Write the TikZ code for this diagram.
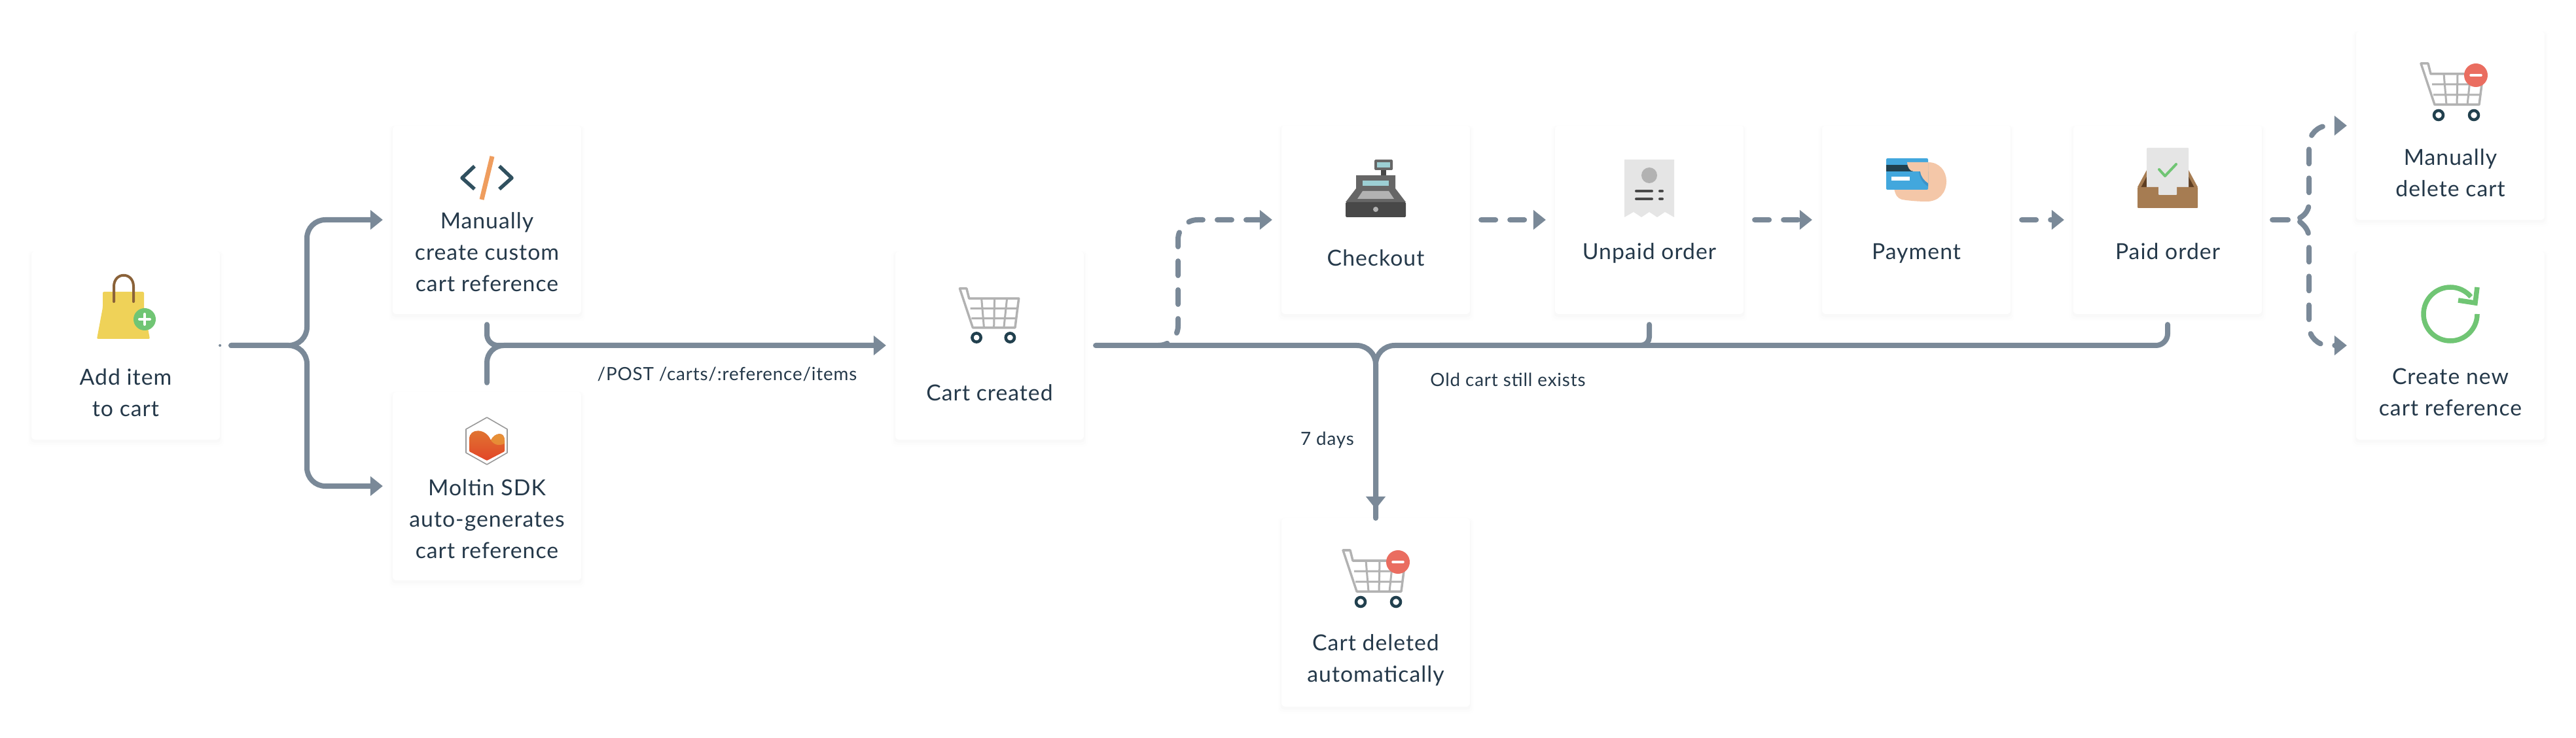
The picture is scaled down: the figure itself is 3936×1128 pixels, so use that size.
\documentclass[tikz,border=0pt]{standalone}
\usepackage{fontspec}
\setmainfont{Lato}[LetterSpace=3]
\usetikzlibrary{arrows.meta,shadows}
\definecolor{flowgray}{HTML}{7A8998}
\definecolor{inkblue}{HTML}{25394A}
\definecolor{cartgray}{HTML}{B2B2B2}
\definecolor{wheelblue}{HTML}{21404E}
\definecolor{minusred}{HTML}{EA6D60}
\definecolor{plusgreen}{HTML}{70C574}
\definecolor{bagyellow}{HTML}{EFD258}
\definecolor{handlebrown}{HTML}{8A6239}
\definecolor{boxbrown}{HTML}{A67C52}
\definecolor{boxdark}{HTML}{5E3E22}
\definecolor{slashorange}{HTML}{EF9D5E}
\definecolor{codeblue}{HTML}{30505F}
\definecolor{screenblue}{HTML}{9CCFD4}
\definecolor{tillgray}{HTML}{666666}
\definecolor{darkgray}{HTML}{484848}
\definecolor{papergray}{HTML}{E5E5E5}
\definecolor{cardblue}{HTML}{42A7DD}
\definecolor{cardshade}{HTML}{3B93C9}
\definecolor{skintone}{HTML}{F4C7A8}
\definecolor{moltintop}{HTML}{E07832}
\definecolor{moltinlow}{HTML}{E24628}
\definecolor{moltinglow}{HTML}{EBA83C}
\tikzset{
    cardbox/.style={rectangle, fill=white, rounded corners=0.06cm, minimum width=2.88cm, minimum height=2.88cm,
        inner sep=0pt, outer sep=0pt,
        general shadow={shadow scale=1.04, shadow yshift=-0.05cm, fill=black, opacity=0.004},
        general shadow={shadow scale=1.025, shadow yshift=-0.04cm, fill=black, opacity=0.006},
        general shadow={shadow scale=1.01, shadow yshift=-0.03cm, fill=black, opacity=0.01}},
    cardtext/.style={text=inkblue, align=center, inner sep=0pt, font=\fontsize{9.6}{13.66}\selectfont},
    steplabel/.style={text=inkblue, inner sep=0pt, font=\fontsize{7.9}{9}\selectfont},
    flowline/.style={draw=flowgray, line width=0.08cm, line cap=round},
    flowarrow/.style={flowline, -{Triangle[length=0.19cm,width=0.29cm]}},
    dashline/.style={flowarrow, dash pattern=on 0.22cm off 0.22cm},
    carticon/.pic={
        \draw[cartgray, line width=0.035cm, line cap=round, line join=round]
            (-48,-39) -- (-37,-39) -- (-33,-23) -- (47,-23) -- (41,24) -- (-27,24) -- cycle;
        \draw[cartgray, line width=0.03cm] (-31,-7) -- (45,-7) (-29,9) -- (43,9)
            (-13,-23) -- (-9,24) (8,-23) -- (7,24) (28,-23) -- (23,24);
        \draw[wheelblue, line width=0.045cm] (-21,40) circle (7) (33,40) circle (7);
    },
    minusbadge/.pic={
        \fill[minusred] (36,-21) circle (18);
        \draw[white, line width=0.035cm, line cap=round] (28,-21) -- (44,-21);
    }
}
\begin{document}
\begin{tikzpicture}[x=0.01cm, y=-0.01cm]
    \useasboundingbox (0,0) rectangle (3936,1128);
    \fill[white] (0,0) rectangle (3936,1128);

    % Cards
    \node[cardbox] (addcard) at (192,528) {};
    \node[cardbox] (manualcard) at (744,336) {};
    \node[cardbox] (moltincard) at (744,743) {};
    \node[cardbox] (cartcard) at (1512,528) {};
    \node[cardbox] (checkoutcard) at (2102,336) {};
    \node[cardbox] (unpaidcard) at (2520,336) {};
    \node[cardbox] (paymentcard) at (2928,336) {};
    \node[cardbox] (paidcard) at (3312,336) {};
    \node[cardbox] (deletedcard) at (2102,936) {};
    \node[cardbox] (mandelcard) at (3744,192) {};
    \node[cardbox] (createcard) at (3744,528) {};

    % Card texts
    \node[cardtext] (addtext) at (192,600) {Add item\\to cart};
    \node[cardtext] (manualtext) at (744,385) {Manually\\create custom\\cart reference};
    \node[cardtext] (moltintext) at (744,793) {Moltin SDK\\auto-generates\\cart reference};
    \node[cardtext] (carttext) at (1512,600) {Cart created};
    \node[cardtext] (checkouttext) at (2102,394) {Checkout};
    \node[cardtext] (unpaidtext) at (2520,387) {Unpaid order};
    \node[cardtext] (paymenttext) at (2928,387) {Payment};
    \node[cardtext] (paidtext) at (3312,384) {Paid order};
    \node[cardtext] (deletedtext) at (2102,1009) {Cart deleted\\automatically};
    \node[cardtext] (mandeltext) at (3744,264) {Manually\\delete cart};
    \node[cardtext] (createtext) at (3744,599) {Create new\\cart reference};

    % Connector labels
    \node[steplabel] (postlabel) at (1111,572) {/POST /carts/:reference/items};
    \node[steplabel] (dayslabel) at (2028,673) {7 days};
    \node[steplabel] (oldlabel) at (2304,580) {Old cart still exists};

    % Helper points
    \coordinate (branchA) at (469,336);
    \coordinate (branchB) at (469,743);
    \coordinate (mergeC) at (2200,528);
    \coordinate (checkfork) at (1770,528);
    \coordinate (checkturn) at (1800,336);
    \coordinate (forkpoint) at (3496,336);
    \coordinate (forkup) at (3514,333);
    \coordinate (forkdown) at (3514,339);
    \coordinate (forkturnA) at (3528,192);
    \coordinate (forkturnB) at (3528,528);

    % Solid flow
    \fill[flowgray] (addcard.east) circle (2);
    \draw[flowarrow, rounded corners=0.28cm, shorten <=0.17cm, shorten >=0.15cm] (addcard.east) -| (branchA) -- (manualcard.west);
    \draw[flowarrow, rounded corners=0.28cm, shorten <=0.17cm, shorten >=0.15cm] (addcard.east) -| (branchB) -- (moltincard.west);
    \draw[flowline, rounded corners=0.26cm, shorten <=0.14cm, shorten >=0.3cm] (moltincard.north) |- (cartcard.west);
    \draw[flowarrow, rounded corners=0.17cm, shorten <=0.16cm, shorten >=0.14cm] (manualcard.south) |- (cartcard.west);
    \draw[flowarrow, rounded corners=0.29cm, shorten <=0.18cm, shorten >=0.14cm] (cartcard.east) -| (deletedcard.north);
    \draw[flowline, rounded corners=0.29cm] (mergeC) -| (deletedcard.north);
    \draw[flowline, rounded corners=0.13cm, shorten <=0.16cm] (unpaidcard.south) |- (mergeC);
    \draw[flowline, rounded corners=0.18cm, shorten <=0.16cm] (paidcard.south) |- (mergeC);

    % Dashed flow
    \draw[dashline, dash phase=0.08cm, rounded corners=0.3cm, shorten >=0.14cm] (checkfork) -| (checkturn) -- (checkoutcard.west);
    \draw[dashline, shorten <=0.17cm, shorten >=0.14cm] (checkoutcard.east) -- (unpaidcard.west);
    \draw[dashline, shorten <=0.17cm, shorten >=0.15cm] (unpaidcard.east) -- (paymentcard.west);
    \draw[dashline, shorten <=0.17cm, shorten >=0.14cm] (paymentcard.east) -- (paidcard.west);
    \draw[flowline, shorten <=0.16cm] (paidcard.east) -- (forkpoint);
    \draw[dashline, shorten >=0.14cm] (forkup) .. controls (3523,328) and (3528,320) .. (3528,310) [rounded corners=0.3cm] -- (forkturnA) -- (mandelcard.west);
    \draw[dashline, shorten >=0.14cm] (forkdown) .. controls (3523,346) and (3528,354) .. (3528,364) [rounded corners=0.3cm] -- (forkturnB) -- (createcard.west);

    % Bag icon
    \fill[bagyellow, rounded corners=0.02cm] (157,446) -- (220,446) -- (220,470) -- (229,518) -- (148,518) -- (157,470) -- cycle;
    \draw[handlebrown, line width=0.04cm, line cap=round] (174,461) -- (174,438) .. controls (174,415) and (204,415) .. (204,438) -- (204,461);
    \fill[plusgreen] (221,488) circle (17);
    \draw[white, line width=0.04cm, line cap=round] (213,488) -- (229,488) (221,480) -- (221,496);

    % Code icon
    \draw[codeblue, line width=0.055cm, line join=round] (725,254) -- (706,272) -- (725,289) (763,254) -- (782,272) -- (763,289);
    \draw[slashorange, line width=0.07cm] (752,239) -- (736,305);

    % Moltin icon
    \draw[gray!80, fill=white, line width=0.016cm, line join=round] (744,638) -- (775,656) -- (775,692) -- (744,710) -- (712,692) -- (712,656) -- cycle;
    \shade[top color=moltintop, bottom color=moltinlow, rounded corners=0.01cm] (717,690) -- (717,672) .. controls (717,654) and (742,654) .. (750,673) .. controls (755,662) and (771,658) .. (771,674) -- (771,690) -- (744,704) -- cycle;
    \fill[moltinglow, opacity=0.6] (750,673) .. controls (755,662) and (771,658) .. (771,674) -- (771,678) .. controls (762,682) and (755,680) .. (750,673) -- cycle;

    % Carts
    \pic at (1512,478) [scale=0.95] {carticon};
    \pic at (2100,880) {carticon};
    \pic at (2100,880) {minusbadge};
    \pic at (3747,136) {carticon};
    \pic at (3747,136) {minusbadge};

    % Till icon
    \fill[tillgray, rounded corners=0.015cm] (2100,244) rectangle (2128,260);
    \fill[screenblue] (2104,248) rectangle (2124,256);
    \fill[darkgray] (2110,260) rectangle (2118,268);
    \fill[tillgray] (2072,268) -- (2132,268) -- (2132,288) -- (2148,309) -- (2056,309) -- (2072,288) -- cycle;
    \fill[screenblue] (2082,276) rectangle (2122,284);
    \fill[cartgray] (2082,292) -- (2122,292) -- (2130,304) -- (2074,304) -- cycle;
    \fill[darkgray, rounded corners=0.015cm] (2056,309) rectangle (2148,332);
    \fill[cartgray] (2102,320) circle (4);

    % Receipt icon
    \fill[papergray] (2482,244) -- (2558,244) -- (2558,332) -- (2544,324) -- (2532,332) -- (2520,324) -- (2508,332) -- (2496,324) -- (2482,332) -- cycle;
    \fill[cartgray] (2520,268) circle (12);
    \draw[darkgray, line width=0.04cm, line cap=round] (2500,292) -- (2524,292) (2536,292) -- (2540,292) (2500,304) -- (2524,304) (2536,304) -- (2540,304);

    % Payment icon
    \fill[skintone] (2930,248) -- (2946,248) .. controls (2964,248) and (2974,262) .. (2974,277) .. controls (2974,295) and (2962,308) .. (2944,308) .. controls (2932,308) and (2918,307) .. (2906,305) .. controls (2899,303) and (2896,298) .. (2894,288) -- cycle;
    \fill[cardblue, rounded corners=0.02cm] (2882,242) rectangle (2946,290);
    \fill[wheelblue] (2882,252) rectangle (2946,262);
    \fill[white] (2890,270) rectangle (2918,276);
    \fill[cardshade] (2932,262) .. controls (2933,272) and (2938,280) .. (2946,285) -- (2946,262) -- cycle;
    \fill[skintone] (2914,248) -- (2946,248) -- (2946,280) .. controls (2940,276) and (2935,270) .. (2934,262) -- (2924,262) .. controls (2918,262) and (2914,255) .. (2914,248) -- cycle;

    % Inbox icon
    \fill[boxbrown] (3280,260) -- (3266,286) -- (3358,286) -- (3344,260) -- cycle;
    \fill[boxdark] (3280,270) -- (3271,287) -- (3353,287) -- (3344,270) -- cycle;
    \fill[papergray, rounded corners=0.01cm] (3280,226) rectangle (3344,290);
    \fill[boxbrown, rounded corners=0.01cm] (3266,286) rectangle (3358,318);
    \fill[papergray, rounded corners=0.01cm] (3298,284) rectangle (3326,298);
    \draw[plusgreen, line width=0.04cm, line cap=round, line join=round] (3299,259) -- (3308,269) -- (3325,251);

    % Refresh icon
    \draw[plusgreen, line width=0.075cm] (3785,480) arc[start angle=0, end angle=320, radius=41];
    \draw[plusgreen, line width=0.075cm, line join=miter] (3785,439) -- (3782,463) -- (3756,459);
\end{tikzpicture}
\end{document}
